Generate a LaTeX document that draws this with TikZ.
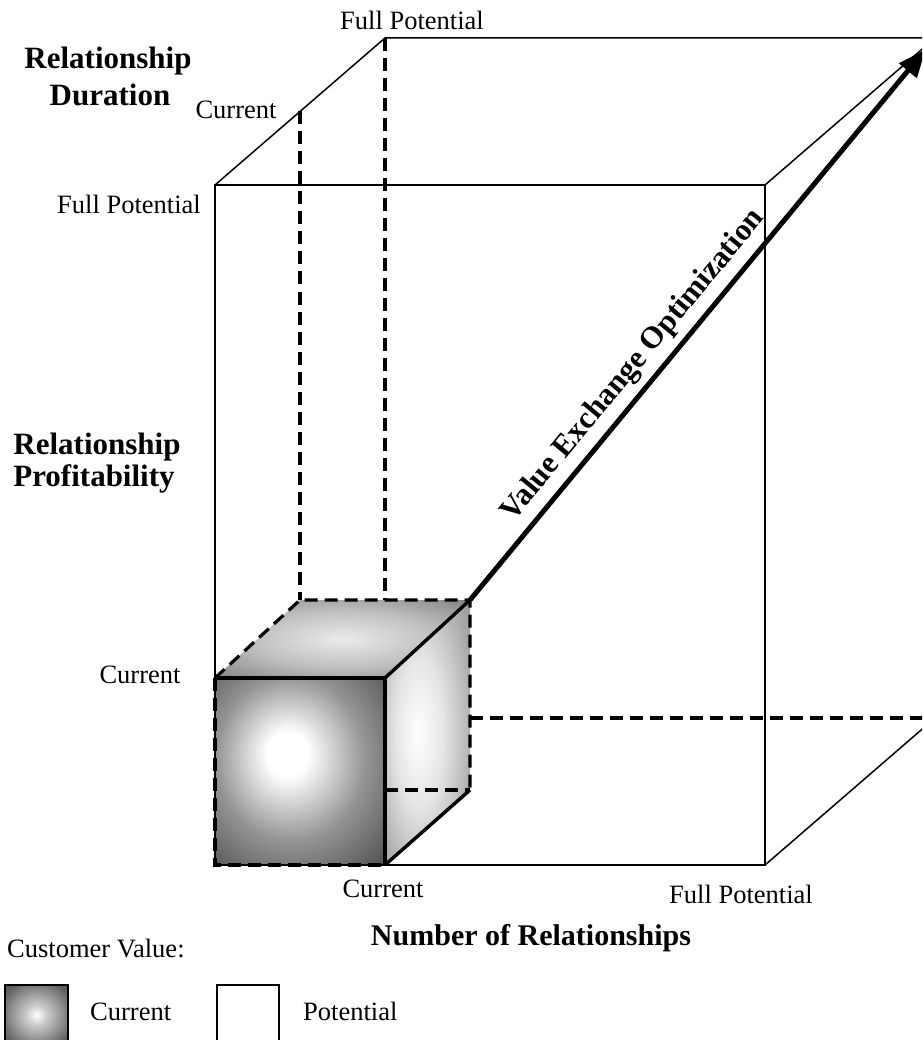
\documentclass[tikz,border=0pt]{standalone}
\usepackage{fontspec}
\setmainfont{Liberation Serif}
\usetikzlibrary{arrows.meta,calc}

% soft grey glows for the faces of the current-value cube
\pgfdeclareradialshading{frontglow}{\pgfpoint{-4bp}{5bp}}{color(0bp)=(white); color(6bp)=(white); color(22bp)=(black!42); color(38bp)=(black!68); color(72bp)=(black!78)}
\pgfdeclareradialshading{topglow}{\pgfpoint{0bp}{0bp}}{color(0bp)=(black!8); color(18bp)=(black!25); color(40bp)=(black!55); color(72bp)=(black!65)}
\pgfdeclareradialshading{sideglow}{\pgfpoint{-6bp}{0bp}}{color(0bp)=(white); color(14bp)=(black!10); color(32bp)=(black!35); color(72bp)=(black!60)}
\pgfdeclareradialshading{swatchglow}{\pgfpoint{0bp}{0bp}}{color(0bp)=(white); color(8bp)=(black!20); color(30bp)=(black!62); color(72bp)=(black!78)}

\begin{document}
\begin{tikzpicture}[x=1pt,y=-1pt,
  edge/.style={line width=1.5pt},
  hidden/.style={line width=3.2pt, dash pattern=on 13pt off 7pt},
  cubeedge/.style={line width=3.4pt},
  lbl/.style={inner sep=0pt, font=\fontsize{26.5}{30}\selectfont},
  axis/.style={inner sep=0pt, font=\fontsize{31}{36}\selectfont\bfseries},
  flow/.style={line width=5pt, -{Triangle[length=28pt,width=22pt]}},
]
\useasboundingbox (0,0) rectangle (922,1040);
\clip (0,0) rectangle (922,1040);

% ---- full-potential cube ----
\coordinate (FTL) at (215,185);
\coordinate (FTR) at (765,185);
\coordinate (FBL) at (215,865);
\coordinate (FBR) at (765,865);
\coordinate (BTL) at (385,38);
\coordinate (BTR) at (935,38);
\coordinate (BBR) at (935,718);

% ---- current-value cube ----
\coordinate (sFTL) at (215,678);
\coordinate (sFTR) at (385,678);
\coordinate (sFBL) at (215,865);
\coordinate (sFBR) at (385,865);
\coordinate (sBTL) at (300,600);
\coordinate (sBTR) at (470,600);
\coordinate (sBBR) at (470,790);
\coordinate (sBBm) at (385,790);
\coordinate (sBTm) at (385,600);
\coordinate (bbStart) at (470,718);
\coordinate (dCur) at ($(FTL)!0.5!(BTL)$);
\coordinate (tip) at ($(sBTR)!0.98!(BTR)$);

% faces of the current-value cube
\shade[shading=topglow] (sFTL) -- (sBTL) -- (sBTR) -- (sFTR) -- cycle;
\shade[shading=sideglow] (sFTR) -- (sBTR) -- (sBBR) -- (sFBR) -- cycle;
\shade[shading=frontglow] (sFTL) rectangle (sFBR);

% full-potential cube outline
\draw[edge] (FTL) rectangle (FBR);
\draw[edge] (FTL) -- (BTL) -- (BTR);
\draw[edge] (FTR) -- (BTR);
\draw[edge] (FBR) -- (BBR);

% hidden edges
\draw[hidden] (dCur) -- (sBTL);
\draw[hidden] (BTL) -- (sBTm);
\draw[hidden] (bbStart) -- (BBR);
\draw[hidden] (sFTL) -- (sBTL) -- (sBTR) -- (sBBR);
\draw[hidden] (sBBm) -- (sBBR);
\draw[hidden] (sFTL) -- (sFBL) -- (sFBR);

% visible edges of the current-value cube
\draw[cubeedge] (sFTL) -- (sFTR) -- (sFBR);
\draw[cubeedge] (sFTR) -- (sBTR);
\draw[cubeedge] (sFBR) -- (sBBR);

% value exchange arrow
\draw[flow] (sBTR) -- (tip);
\path ($(sBTR)!16pt!90:(BTR)$) coordinate (tA) -- ($(BTR)!16pt!-90:(sBTR)$) coordinate (tB)
  node[pos=0.39, sloped, anchor=base, axis] (veo) {Value Exchange Optimization};

% axis labels
\node[axis, anchor=base] (dur1) at (108,69) {Relationship};
\node[axis, anchor=base] (dur2) at (110,106) {Duration};
\node[axis, anchor=base] (prof1) at (97,454) {Relationship};
\node[axis, anchor=base] (prof2) at (94,486) {Profitability};
\node[axis, anchor=base, font=\fontsize{30}{34}\selectfont\bfseries] (num) at (531,945) {Number of Relationships};

% scale labels
\node[lbl, anchor=base] (durfull) at (412,30) {Full Potential};
\node[lbl, anchor=base] (durcur) at (236,119) {Current};
\node[lbl, anchor=base] (proffull) at (129,214) {Full Potential};
\node[lbl, anchor=base] (profcur) at (140,683) {Current};
\node[lbl, anchor=base] (numcur) at (383,897) {Current};
\node[lbl, anchor=base] (numfull) at (741,903) {Full Potential};

% legend
\node[lbl, anchor=base west] (legtitle) at (7,957) {Customer Value:};
\node[draw, line width=1.5pt, shade, shading=swatchglow, minimum width=63pt, minimum height=60pt, inner sep=0pt] (swcur) at (36.5,1015) {};
\node[lbl, anchor=base west] (legcur) at (90,1020) {Current};
\node[draw, line width=1.5pt, fill=white, minimum width=62pt, minimum height=60pt, inner sep=0pt] (swpot) at (248,1015) {};
\node[lbl, anchor=base west] (legpot) at (303,1020) {Potential};
\end{tikzpicture}
\end{document}
